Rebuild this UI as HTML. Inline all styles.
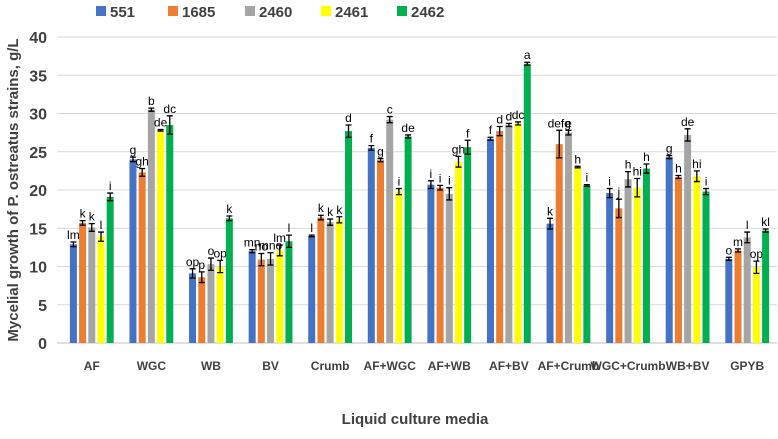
<!DOCTYPE html>
<html><head><meta charset="utf-8"><style>
body{margin:0;background:#fff;font-family:"Liberation Sans",sans-serif}
</style></head><body>
<svg id="c" width="778" height="434" xmlns="http://www.w3.org/2000/svg" font-family="Liberation Sans, sans-serif"></svg>
<script>
const categories=["AF","WGC","WB","BV","Crumb","AF+WGC","AF+WB","AF+BV","AF+Crumb","WGC+Crumb","WB+BV","GPYB"];
const seriesNames=["551","1685","2460","2461","2462"];
const colors=["#4472c4","#ed7d31","#a5a5a5","#ffff00","#00b050"];
const s551=[12.9,24.0,9.1,12.0,14.0,25.5,20.7,26.7,15.6,19.6,24.3,11.0];
const s1685=[15.7,22.3,8.6,10.9,16.4,23.9,20.3,27.7,26.0,17.6,21.7,12.1];
const s2460=[15.1,30.5,10.3,11.0,15.8,29.2,19.5,28.5,27.5,21.4,27.2,13.8];
const s2461=[13.9,27.8,10.0,12.1,16.1,19.8,23.7,28.7,23.0,20.3,21.8,9.9];
const s2462=[19.1,28.5,16.3,13.3,27.7,27.0,25.6,36.5,20.6,22.8,19.8,14.7];
const e551=[0.3,0.3,0.6,0.2,0.1,0.3,0.5,0.2,0.7,0.6,0.2,0.2];
const e1685=[0.3,0.5,0.7,0.8,0.3,0.2,0.3,0.6,1.8,1.2,0.2,0.2];
const e2460=[0.5,0.2,0.8,0.8,0.4,0.4,0.8,0.2,0.3,1.0,0.8,0.7];
const e2461=[0.6,0.1,0.8,0.7,0.4,0.4,0.7,0.2,0.1,1.2,0.7,0.8];
const e2462=[0.5,1.2,0.3,0.8,0.8,0.2,0.9,0.2,0.1,0.6,0.4,0.2];
const l551=["lm","g","op","mn","l","f","i","f","k","i","g","o"];
const l1685=["k","gh","p","no","k","g","i","d","defg","j","h","m"];
const l2460=["k","b","o","mno","k","c","i","d","e","h","de","l"];
const l2461=["l","de","op","lm","k","i","gh","dc","h","hi","hi","op"];
const l2462=["i","dc","k","l","d","de","f","a","i","h","i","kl"];
const yTicks=[0,5,10,15,20,25,30,35,40];
const vals=[s551,s1685,s2460,s2461,s2462],errs=[e551,e1685,e2460,e2461,e2462],lets=[l551,l1685,l2460,l2461,l2462];
const X0=62,X1=777,Y0=343,Y40=37;
const y=v=>Y0-(v/40)*(Y0-Y40);
const band=(X1-X0)/categories.length;
const bw=7,step=9.2;
const x=(i,j)=>X0+band*i+band/2+(j-2)*step-bw/2;
const svg=document.getElementById('c');const NS="http://www.w3.org/2000/svg";
function mk(t,a,p){const e=document.createElementNS(NS,t);for(const k in a)e.setAttribute(k,a[k]);(p||svg).appendChild(e);return e;}
yTicks.forEach(t=>{
 const g=mk('line',{x1:57,x2:X1,y1:y(t),y2:y(t),stroke:t===0?'#bfbfbf':'#d9d9d9','stroke-width':1});
 
 
 const tx=mk('text',{x:47,y:y(t)+6,'text-anchor':'end','font-size':16,'font-weight':'bold',fill:'#404040'});tx.textContent=t;
 
 
});
categories.forEach((c,i)=>{
 const tx=mk('text',{x:X0+band*i+band/2,y:370,'text-anchor':'middle','font-size':12,'font-weight':'bold',fill:'#404040'});tx.textContent=c;
 
 
 for(let j=0;j<5;j++){
  const v=vals[j][i],e=errs[j][i],bx=x(i,j),cx=bx+bw/2;
  const r=mk('rect',{x:bx,y:y(v),width:bw,height:Y0-y(v),fill:colors[j]});
  
  
  const eb=mk('path',{d:`M${cx},${y(v+e)}V${y(v-e)}M${cx-3},${y(v+e)}H${cx+3}M${cx-3},${y(v-e)}H${cx+3}`,stroke:'#000','stroke-width':1.3,fill:'none'});
  
  
  const lt=mk('text',{x:cx,y:y(v+e)-3,'text-anchor':'middle','font-size':12,fill:'#000'});lt.textContent=lets[j][i];
  
  
 }
});
const legX=[96,168,245,321,397];
seriesNames.forEach((n,j)=>{
 const r=mk('rect',{x:legX[j],y:6,width:10,height:10,fill:colors[j]});
 
 
 const t=mk('text',{x:legX[j]+14,y:17,'font-size':15,'font-weight':'bold',fill:'#404040'});t.textContent=n;
 
 
});
const yt=mk('text',{x:0,y:0,transform:'translate(18,190) rotate(-90)','text-anchor':'middle','font-size':15,'font-weight':'bold',fill:'#404040'});yt.textContent='Mycelial growth of P. ostreatus strains, g/L';


const xt=mk('text',{x:415,y:424,'text-anchor':'middle','font-size':15,'font-weight':'bold',fill:'#404040'});xt.textContent='Liquid culture media';


</script>
</body></html>
